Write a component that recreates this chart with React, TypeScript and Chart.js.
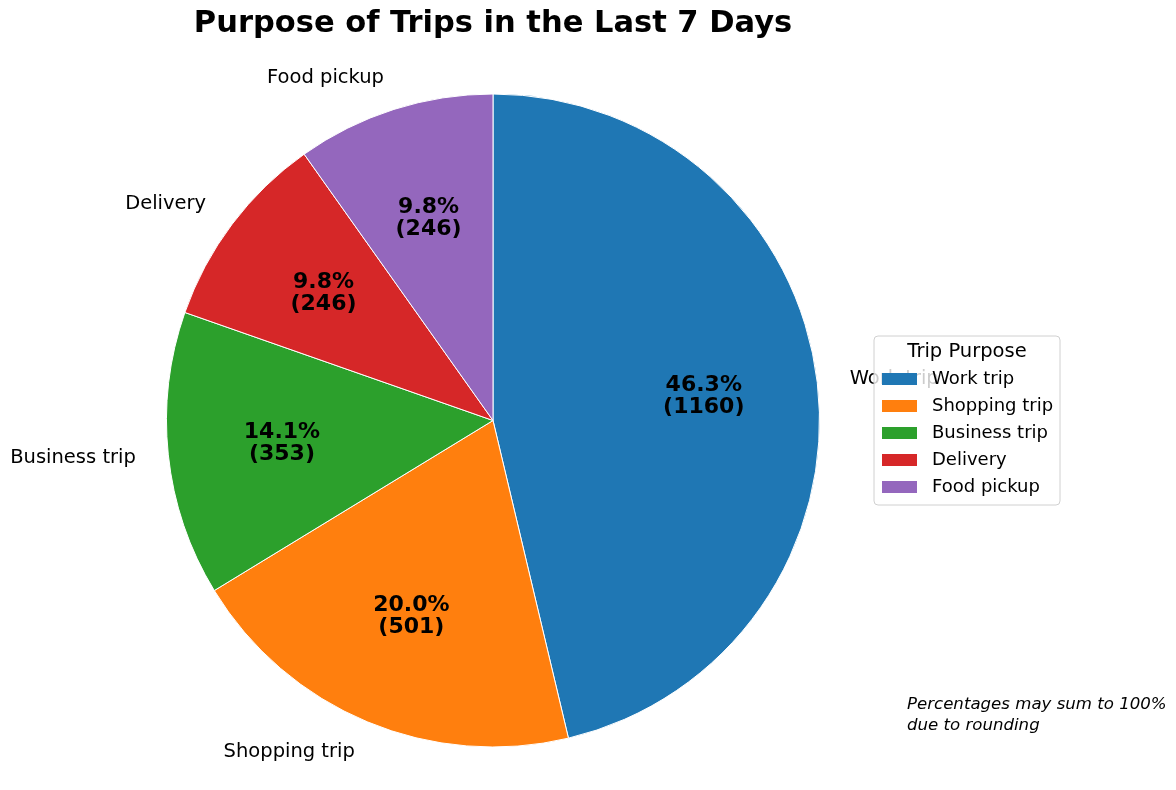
import React, { useEffect, useRef } from "react";
import { Chart, registerables } from "chart.js";

Chart.register(...registerables);

const labels = ["Work trip", "Shopping trip", "Business trip", "Delivery", "Food pickup"];
const counts = [1160, 501, 353, 246, 246];
const colors = ["#1f77b4", "#ff7f0e", "#2ca02c", "#d62728", "#9467bd"];
const titleText = "Purpose of Trips in the Last 7 Days";
const legendTitle = "Trip Purpose";
const footnoteLines = ["Percentages may sum to 100%", "due to rounding"];

const FONT = "'DejaVu Sans', sans-serif";

const overlayPlugin = {
  id: "overlay",
  afterDraw(chart: any) {
    const ctx = chart.ctx as CanvasRenderingContext2D;
    const meta = chart.getDatasetMeta(0);
    const total = counts.reduce((a, b) => a + b, 0);
    ctx.save();
    // title
    ctx.fillStyle = "#000";
    ctx.font = `bold 30.5px ${FONT}`;
    ctx.textAlign = "center";
    ctx.textBaseline = "middle";
    ctx.fillText(titleText, 493, 24);

    meta.data.forEach((arc: any, i: number) => {
      const { x, y, startAngle, endAngle, outerRadius } = arc.getProps(
        ["x", "y", "startAngle", "endAngle", "outerRadius"],
        true
      );
      const mid = (startAngle + endAngle) / 2;
      const cx = Math.cos(mid);
      const cy = Math.sin(mid);
      // inner labels
      const pr = outerRadius * 0.65;
      const px = x + cx * pr;
      const py = y + cy * pr;
      const pct = ((counts[i] / total) * 100).toFixed(1) + "%";
      ctx.font = `bold 22px ${FONT}`;
      ctx.textAlign = "center";
      ctx.textBaseline = "middle";
      ctx.fillStyle = "#000";
      ctx.fillText(pct, px, py - 11);
      ctx.fillText(`(${counts[i]})`, px, py + 11);
      // outer labels
      const lr = outerRadius * 1.1;
      const lx = x + cx * lr;
      const ly = y + cy * lr;
      ctx.font = `19.5px ${FONT}`;
      ctx.textAlign = cx > 0 ? "left" : "right";
      ctx.fillText(labels[i], lx, ly);
    });

    // legend
    const lx0 = 874, ly0 = 336, lw = 186, lh = 169;
    ctx.beginPath();
    const r = 4;
    ctx.moveTo(lx0 + r, ly0);
    ctx.lineTo(lx0 + lw - r, ly0);
    ctx.quadraticCurveTo(lx0 + lw, ly0, lx0 + lw, ly0 + r);
    ctx.lineTo(lx0 + lw, ly0 + lh - r);
    ctx.quadraticCurveTo(lx0 + lw, ly0 + lh, lx0 + lw - r, ly0 + lh);
    ctx.lineTo(lx0 + r, ly0 + lh);
    ctx.quadraticCurveTo(lx0, ly0 + lh, lx0, ly0 + lh - r);
    ctx.lineTo(lx0, ly0 + r);
    ctx.quadraticCurveTo(lx0, ly0, lx0 + r, ly0);
    ctx.closePath();
    ctx.fillStyle = "rgba(255,255,255,0.8)";
    ctx.fill();
    ctx.strokeStyle = "#d0d0d0";
    ctx.lineWidth = 1;
    ctx.stroke();

    ctx.fillStyle = "#000";
    ctx.font = `19.5px ${FONT}`;
    ctx.textAlign = "center";
    ctx.textBaseline = "middle";
    ctx.fillText(legendTitle, lx0 + lw / 2, 352);
    ctx.font = `18px ${FONT}`;
    ctx.textAlign = "left";
    labels.forEach((lab, i) => {
      const yy = 379 + i * 27;
      ctx.fillStyle = colors[i];
      ctx.fillRect(882, yy - 6, 35, 12);
      ctx.fillStyle = "#000";
      ctx.fillText(lab, 932, yy);
    });

    // footnote
    ctx.font = `italic 16.6px ${FONT}`;
    ctx.textAlign = "left";
    ctx.fillStyle = "#000";
    footnoteLines.forEach((t, i) => ctx.fillText(t, 907, 705 + i * 21));
    ctx.restore();
  },
};

export default function App() {
  const ref = useRef<HTMLCanvasElement>(null);
  useEffect(() => {
    if (!ref.current) return;
    const chart = new Chart(ref.current, {
      type: "pie",
      data: {
        labels,
        datasets: [
          {
            data: counts,
            backgroundColor: colors,
            borderColor: "#ffffff",
            borderWidth: 1,
          },
        ],
      },
      options: {
        responsive: false,
        animation: false,
        layout: { padding: { left: 166, right: 356, top: 93.5, bottom: 42.5 } },
        plugins: {
          legend: { display: false },
          title: { display: false },
          tooltip: { enabled: false },
        },
      },
      plugins: [overlayPlugin],
    });
    return () => chart.destroy();
  }, []);
  return (
    <div style={{ position: "absolute", left: 0, top: 0, width: 1176, height: 790, background: "#fff" }}>
      <canvas ref={ref} width={1176} height={790} style={{ width: 1176, height: 790 }} />
    </div>
  );
}
